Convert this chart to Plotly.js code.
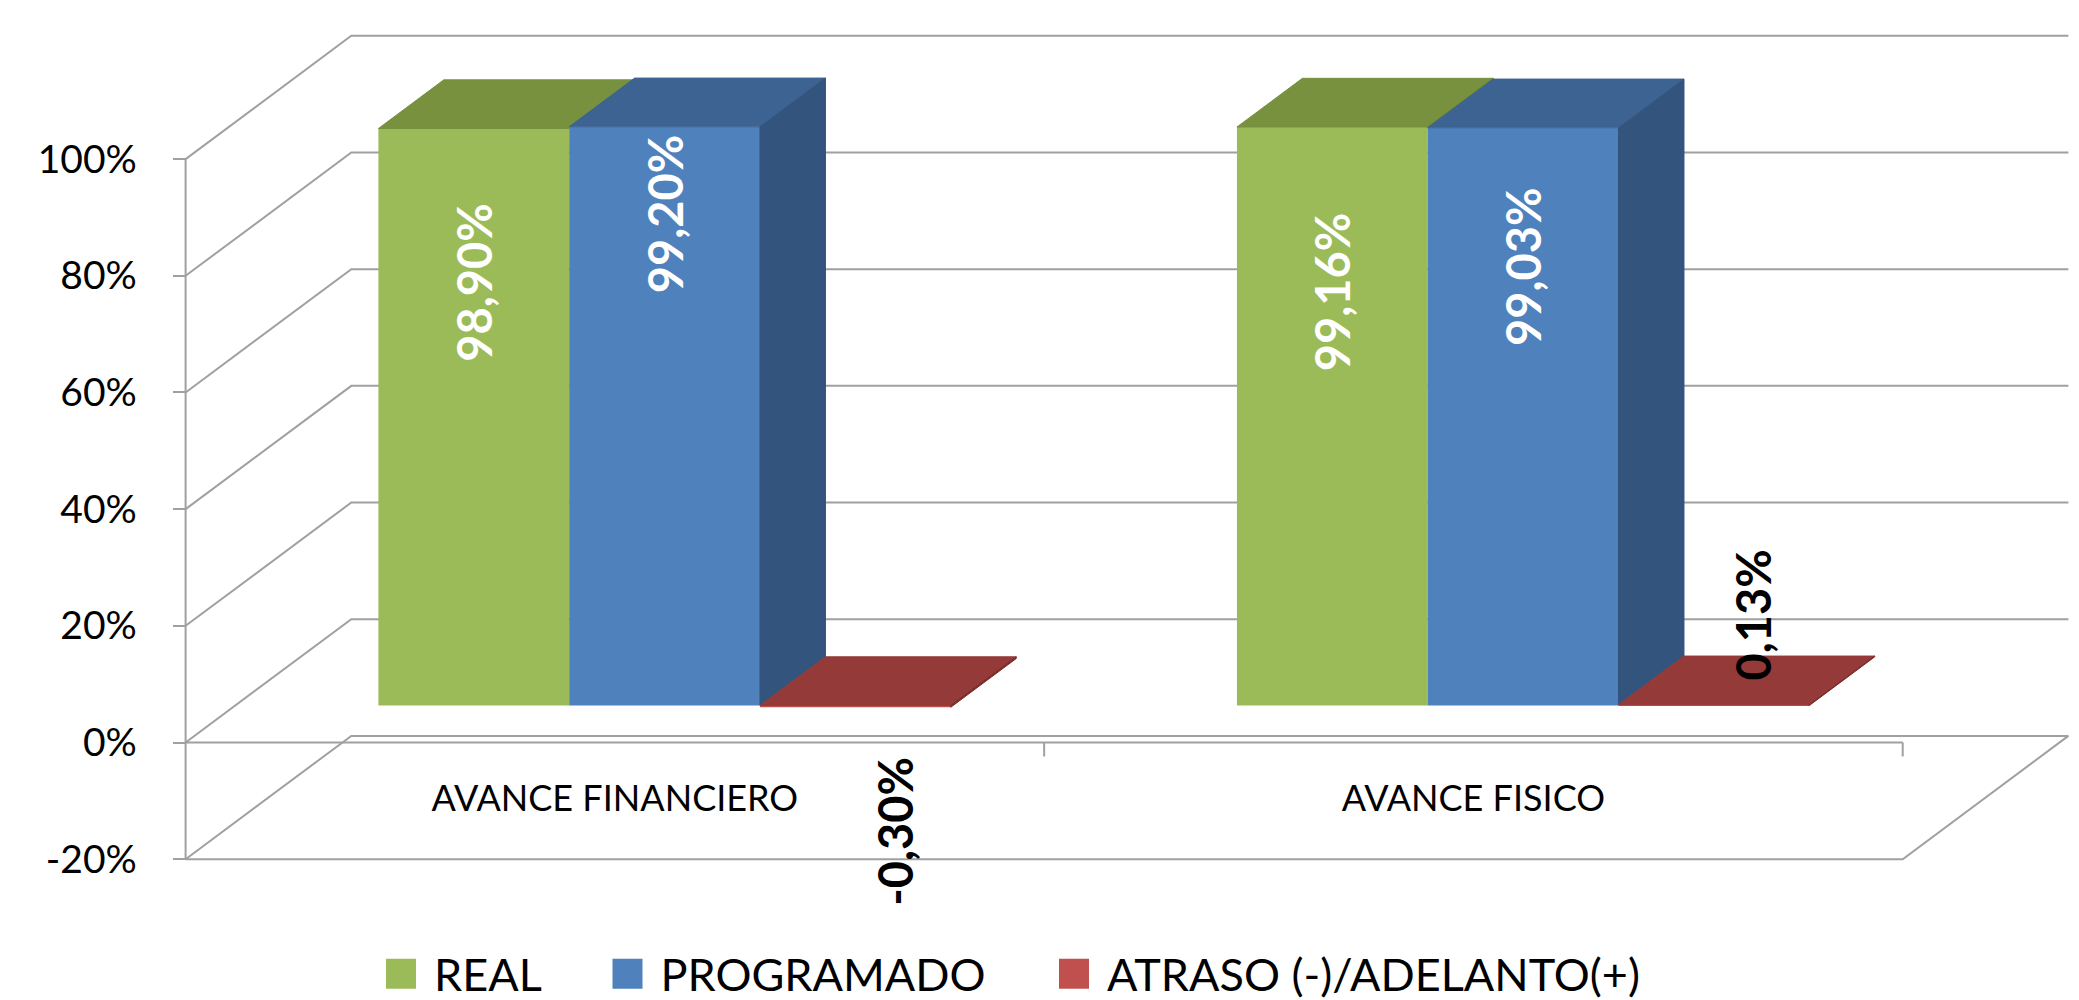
<!DOCTYPE html>
<html>
<head>
<meta charset="utf-8">
<script src="https://cdn.plot.ly/plotly-3.0.1.min.js"></script>
<style>
  html, body { margin: 0; padding: 0; background: #ffffff; }
  #chart { width: 2079px; height: 1000px; }
</style>
</head>
<body>
<div id="chart"></div>
<script>
// ---- data ----
const categories = ['AVANCE FINANCIERO', 'AVANCE FISICO'];
const seriesNames = ['REAL', 'PROGRAMADO', 'ATRASO (-)/ADELANTO(+)'];
const realValues = [98.90, 99.16];
const programadoValues = [99.20, 99.03];
const atrasoValues = [-0.30, 0.13];
const yTickValues = [-20, 0, 20, 40, 60, 80, 100];
const yTickLabels = ['-20%', '0%', '20%', '40%', '60%', '80%', '100%'];

// ---- styles ----
const FONT = 'Lato, "Open Sans", sans-serif';
const frontColors = ['#9BBB59', '#4F81BD', '#C0504D'];
const topColors = ['#77913F', '#3D6392', '#943A38'];
const sideColors = ['#63802F', '#33547D', '#7A2C2A'];
const labelColors = ['#FFFFFF', '#FFFFFF', '#000000'];
const gridColor = '#A0A0A0';

// ---- page geometry ----
const W = 2079, H = 1000;
const margin = { l: 140, r: 8, t: 10, b: 110 };
const pxPerCat = 858.55;      // horizontal scale of the front plane
const pxPerPct = 5.834;       // vertical scale of the value axis
const originX = 185.6;        // category axis start, px
const zeroY = 742.5;          // 0% on the front plane, px
const plotW = W - margin.l - margin.r;
const plotH = H - margin.t - margin.b;
const xMin = -(originX - margin.l) / pxPerCat;
const xMax = xMin + plotW / pxPerCat;
const yMax = (zeroY - margin.t) / pxPerPct;
const yMin = yMax - plotH / pxPerPct;

// oblique depth of the chart box (full depth, in axis units)
const DX = 165.7 / pxPerCat;
const DY = 123.3 / pxPerPct;
// bars sit between these depth fractions
const D0 = 0.30, D1 = 0.695;
const barW = 2 / 9;           // gap width 150%
const nCat = categories.length;

function proj(x, v, d) { return [x + d * DX, v + d * DY]; }

const seriesValues = [realValues, programadoValues, atrasoValues];
const traces = [];

// front faces of the bars
seriesValues.forEach(function (vals, i) {
  traces.push({
    type: 'bar',
    name: seriesNames[i],
    x: vals.map(function (v, k) { return k + 0.5 + (i - 1) * barW + D0 * DX; }),
    y: vals,
    base: vals.map(function () { return D0 * DY; }),
    width: barW,
    marker: { color: frontColors[i], line: { width: 0 } },
    legend: i === 0 ? 'legend' : 'legend' + (i + 1),
    hoverinfo: 'skip'
  });
});

function face(pts, color) {
  const xs = pts.map(function (p) { return p[0]; });
  const ys = pts.map(function (p) { return p[1]; });
  xs.push(pts[0][0]); ys.push(pts[0][1]);
  return {
    type: 'scatter', mode: 'lines', x: xs, y: ys,
    fill: 'toself', fillcolor: color,
    line: { color: color, width: 1 },
    showlegend: false, hoverinfo: 'skip'
  };
}

// top and right side faces
for (let k = 0; k < nCat; k++) {
  for (let i = 0; i < seriesValues.length; i++) {
    const v = seriesValues[i][k];
    const l = k + 0.5 + (i - 1.5) * barW;
    const r = l + barW;
    const top = Math.max(v, 0);
    traces.push(face([proj(l, top, D0), proj(r, top, D0), proj(r, top, D1), proj(l, top, D1)], topColors[i]));
    let lo = Math.min(v, 0);
    if (i < seriesValues.length - 1) lo = Math.max(lo, Math.max(seriesValues[i + 1][k], 0));
    if (top > lo) {
      traces.push(face([proj(r, lo, D0), proj(r, top, D0), proj(r, top, D1), proj(r, lo, D1)], sideColors[i]));
    }
  }
}

// value labels, placed along each bar
const labelLift = [[72.6, 70.9], [84.3, 75.2], [-21.5, 15.5]];
const labelShiftX = [0, 0, 0.046];
function fmt(v) { return v.toFixed(2).replace('.', ',') + '%'; }
const annotations = [];
seriesValues.forEach(function (vals, i) {
  vals.forEach(function (v, k) {
    annotations.push({
      xref: 'x', yref: 'y',
      x: k + 0.5 + (i - 1) * barW + D0 * DX + labelShiftX[i],
      y: D0 * DY + labelLift[i][k],
      text: fmt(v), textangle: -90, showarrow: false,
      xanchor: 'center', yanchor: 'middle',
      font: { family: FONT, size: 47, weight: 700, color: labelColors[i] }
    });
  });
});

// chart box: back-wall gridlines, floor, axis lines
const lineStyle = { color: gridColor, width: 2 };
const shapes = [];
function pathOf(pts) {
  return pts.map(function (p, j) { return (j ? 'L' : 'M') + p[0] + ',' + p[1]; }).join(' ');
}
yTickValues.forEach(function (v) {
  shapes.push({ type: 'path', xref: 'x', yref: 'y', layer: 'below', line: lineStyle,
    path: pathOf([proj(0, v, 0), proj(0, v, 1), proj(nCat, v, 1)]) });
});
const yLow = yTickValues[0], yHigh = yTickValues[yTickValues.length - 1];
shapes.push({ type: 'path', xref: 'x', yref: 'y', layer: 'below', line: lineStyle,
  path: pathOf([proj(0, yLow, 0), proj(nCat, yLow, 0), proj(nCat, yLow, 1)]) });
shapes.push({ type: 'path', xref: 'x', yref: 'y', layer: 'below', line: lineStyle,
  path: pathOf([[0, yLow], [0, yHigh]]) });
shapes.push({ type: 'path', xref: 'x', yref: 'y', layer: 'below', line: lineStyle,
  path: pathOf([[0, 0], [nCat, 0]]) });
const tickLen = 14 / pxPerPct;
for (let k = 1; k <= nCat; k++) {
  shapes.push({ type: 'path', xref: 'x', yref: 'y', layer: 'below', line: lineStyle,
    path: pathOf([[k, 0], [k, -tickLen]]) });
}

const legendBase = {
  orientation: 'h', xref: 'container', yref: 'container',
  xanchor: 'left', yanchor: 'middle', y: 0.026,
  font: { family: FONT, size: 45, color: '#000000' },
  itemwidth: 56, bgcolor: 'rgba(0,0,0,0)', borderwidth: 0
};

const layout = {
  width: W, height: H,
  margin: margin,
  paper_bgcolor: '#ffffff', plot_bgcolor: '#ffffff',
  barmode: 'overlay',
  showlegend: true,
  xaxis: {
    range: [xMin, xMax], anchor: 'free', position: (0 - yMin) / (yMax - yMin),
    tickmode: 'array', tickvals: categories.map(function (c, k) { return k + 0.5; }),
    ticktext: categories, ticks: '', showline: false, showgrid: false, zeroline: false,
    ticklabelstandoff: 31, fixedrange: true,
    tickfont: { family: FONT, size: 36, color: '#000000' }
  },
  yaxis: {
    range: [yMin, yMax], anchor: 'free', position: (0 - xMin) / (xMax - xMin),
    tickmode: 'array', tickvals: yTickValues, ticktext: yTickLabels,
    ticks: 'outside', ticklen: 13, tickwidth: 2, tickcolor: gridColor,
    ticklabelstandoff: 28, showline: false, showgrid: false, zeroline: false, fixedrange: true,
    tickfont: { family: FONT, size: 39, color: '#000000' }
  },
  legend: Object.assign({}, legendBase, { x: 368 / W }),
  legend2: Object.assign({}, legendBase, { x: 594.5 / W }),
  legend3: Object.assign({}, legendBase, { x: 1041 / W }),
  shapes: shapes,
  annotations: annotations
};

Plotly.newPlot('chart', traces, layout, { displayModeBar: false, responsive: false }).then(function (gd) {
  // larger legend swatches in every legend box
  gd.querySelectorAll('g.legendpoints path').forEach(function (p) {
    const t = p.getAttribute('transform') || '';
    p.setAttribute('transform', t + ' scale(2.5)');
  });
});
</script>
</body>
</html>
